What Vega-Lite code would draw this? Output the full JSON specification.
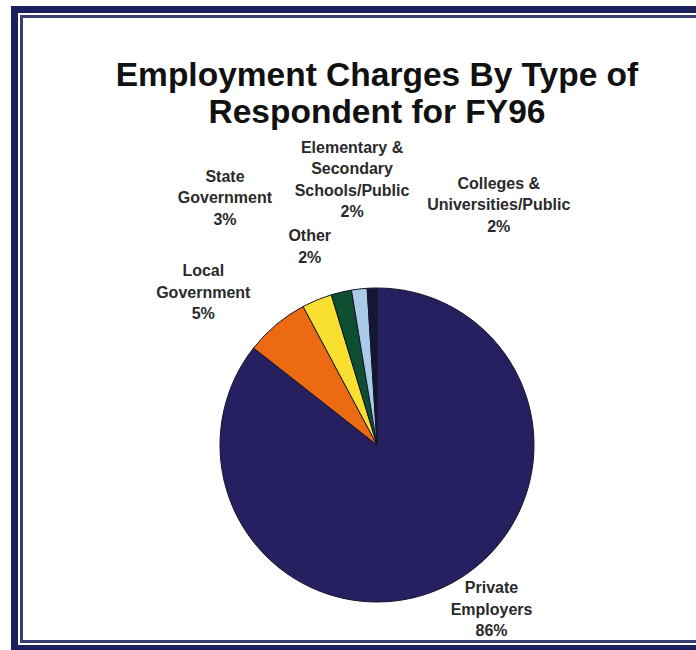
{
  "$schema": "https://vega.github.io/schema/vega-lite/v6.json",
  "width": 700,
  "height": 646,
  "autosize": {"type": "none"},
  "padding": {"left": 11, "top": 6, "right": 0, "bottom": 0},
  "background": "white",
  "config": {"view": {"stroke": null}},
  "title": {
    "text": ["Employment Charges By Type of", "Respondent for FY96"],
    "font": "Liberation Sans",
    "fontSize": 33.5,
    "fontWeight": "bold",
    "color": "#111111",
    "anchor": "middle",
    "baseline": "alphabetic",
    "lineHeight": 37,
    "offset": 0,
    "dx": 16,
    "dy": 150
  },
  "datasets": {
    "slices": [
      {"cat": "Private Employers", "value": 85.6, "label": "Private\nEmployers\n86%"},
      {"cat": "Local Government", "value": 6.6, "label": "Local\nGovernment\n5%"},
      {"cat": "State Government", "value": 3.1, "label": "State\nGovernment\n3%"},
      {"cat": "Other", "value": 2.1, "label": "Other\n2%"},
      {"cat": "Elementary & Secondary Schools/Public", "value": 1.6, "label": "Elementary &\nSecondary\nSchools/Public\n2%"},
      {"cat": "Colleges & Universities/Public", "value": 1.0, "label": "Colleges &\nUniversities/Public\n2%"}
    ],
    "frame": [{"frame": 1}]
  },
  "layer": [
    {
      "data": {"name": "frame"},
      "mark": {"type": "rect", "fill": null, "stroke": "#3a3d72", "strokeWidth": 24, "clip": true},
      "encoding": {}
    },
    {
      "data": {"name": "frame"},
      "mark": {"type": "rect", "fill": null, "stroke": "#ffffff", "strokeWidth": 18, "clip": true},
      "encoding": {}
    },
    {
      "data": {"name": "frame"},
      "mark": {"type": "rect", "fill": null, "stroke": "#1b1f5c", "strokeWidth": 14, "clip": true},
      "encoding": {}
    },
    {
      "data": {"name": "slices"},
      "mark": {"type": "arc", "outerRadius": 157, "stroke": "#15152a", "strokeWidth": 1, "xOffset": 16, "yOffset": 116},
      "encoding": {
        "theta": {"field": "value", "type": "quantitative", "stack": true},
        "order": {"field": "value", "type": "quantitative", "sort": "descending"},
        "color": {
          "field": "cat",
          "type": "nominal",
          "legend": null,
          "scale": {
            "domain": ["Private Employers", "Local Government", "State Government", "Other", "Elementary & Secondary Schools/Public", "Colleges & Universities/Public"],
            "range": ["#262060", "#ec6a12", "#f8df30", "#0d4f30", "#a9cbe9", "#141632"]
          }
        }
      }
    },
    {
      "data": {"name": "slices"},
      "mark": {
        "type": "text",
        "radius": 230,
        "font": "Liberation Sans",
        "fontSize": 16,
        "fontWeight": "bold",
        "fill": "#2a2a2a",
        "lineBreak": "\n",
        "lineHeight": 21.5,
        "align": "center",
        "baseline": "middle",
        "xOffset": 16,
        "yOffset": 116,
        "dx": {"expr": "datum.cat == 'Private Employers' ? 14 : datum.cat == 'Local Government' ? -26 : datum.cat == 'State Government' ? -64 : datum.cat == 'Other' ? -15 : datum.cat == 'Elementary & Secondary Schools/Public' ? 1 : 129"},
        "dy": {"expr": "datum.cat == 'Private Employers' ? -63.5 : datum.cat == 'Local Government' ? 2.5 : datum.cat == 'State Government' ? -56 : datum.cat == 'Other' ? 15.25 : datum.cat == 'Elementary & Secondary Schools/Public' ? -68.75 : -31.5"}
      },
      "encoding": {
        "theta": {"field": "value", "type": "quantitative", "stack": true},
        "order": {"field": "value", "type": "quantitative", "sort": "descending"},
        "detail": {"field": "cat", "type": "nominal"},
        "text": {"field": "label", "type": "nominal"}
      }
    }
  ]
}
